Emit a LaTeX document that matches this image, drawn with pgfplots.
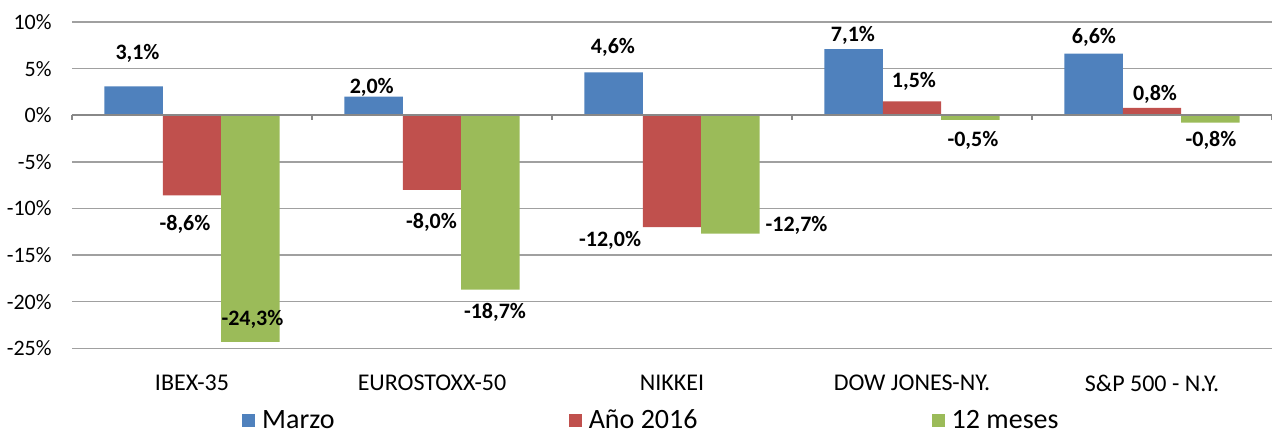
\documentclass[border=0pt]{standalone}
\usepackage{fontspec}
\setmainfont{Carlito}
\usepackage{pgfplots}
\pgfplotsset{compat=1.18}
\definecolor{cblue}{HTML}{4F81BD}
\definecolor{cred}{HTML}{C0504D}
\definecolor{cgreen}{HTML}{9BBB59}
\definecolor{cgrid}{HTML}{A0A0A0}
\definecolor{caxis}{HTML}{888888}
\pgfplotsset{sqleg/.style={legend image code/.code={\fill[##1] (0pt,-3.3pt) rectangle (6.6pt,3.3pt);}}}
\begin{document}
\begin{tikzpicture}
\begin{axis}[
  scale only axis, width=600pt, height=163.15pt,
  xmin=-0.5, xmax=4.5, ymin=-25, ymax=10,
  axis line style={draw=none},
  xtick={0,1,2,3,4},
  xticklabels={IBEX-35, EUROSTOXX-50, NIKKEI, DOW JONES-NY., S\&P 500 - N.Y.},
  ytick={-25,-20,-15,-10,-5,0,5,10},
  yticklabels={-25\%,-20\%,-15\%,-10\%,-5\%,0\%,5\%,10\%},
  tick style={draw=none},
  ymajorgrids, grid style={cgrid, line width=0.75pt},
  yticklabel style={font=\fontsize{11}{13}\selectfont, anchor=east, inner sep=0pt, xshift=-10pt},
  xticklabel style={font=\fontsize{12}{14}\selectfont, anchor=center, inner sep=0pt, yshift=-17.3pt},
  legend columns=3,
  legend cell align=left,
  legend style={draw=none, fill=none, inner sep=0pt, outer sep=0pt,
    at={(axis description cs:0.1417,-0.2215)}, anchor=west,
    font=\fontsize{14}{15}\selectfont, column sep=0pt,
    nodes={inner sep=0pt},
    /tikz/every odd column/.append style={column sep=3.5pt},
    /tikz/every even column/.append style={column sep=117pt}},
  clip=false,
]
\addplot[ybar, bar width=0.2436, bar shift=-0.2436, fill=cblue, draw=none, sqleg]
  coordinates {(0,3.1) (1,2.0) (2,4.6) (3,7.1) (4,6.6)};
\addlegendentry{Marzo}
\addplot[ybar, bar width=0.2436, bar shift=0, fill=cred, draw=none, sqleg]
  coordinates {(0,-8.6) (1,-8.0) (2,-12.0) (3,1.5) (4,0.8)};
\addlegendentry{Año 2016}
\addplot[ybar, bar width=0.2436, bar shift=0.2436, fill=cgreen, draw=none, sqleg]
  coordinates {(0,-24.3) (1,-18.7) (2,-12.7) (3,-0.5) (4,-0.8)};
\addlegendentry{12 meses}
\addplot[draw=none, mark=none, forget plot, nodes near coords={\pgfplotspointmeta\%},
  point meta=explicit symbolic,
  nodes near coords style={anchor=center, font=\bfseries\fontsize{11}{13}\selectfont, inner sep=0pt}]
  table[x=x, y=y, meta=lab] {
x y lab
-0.227 6.675 3,1
-0.029 -11.72 -8,6
0.252 -21.91 -24,3
0.749 3.03 2,0
0.998 -11.45 -8,0
1.2625 -21.16 -18,7
1.754 7.26 4,6
1.742 -13.38 -12,0
2.519 -11.77 -12,7
2.754 8.61 7,1
3.008 3.67 1,5
3.254 -2.66 -0,5
3.758 8.34 6,6
4.0125 2.28 0,8
4.246 -2.66 -0,8
};
\draw[caxis, line width=0.75pt] (axis cs:-0.5,0) -- (axis cs:4.5,0);
\pgfplotsinvokeforeach{-0.5,0.5,1.5,2.5,3.5,4.5}{
  \draw[caxis, line width=0.6pt] (axis cs:#1,0) -- ++(0pt,-2.5pt);
}
\end{axis}
\pgfresetboundingbox
\path[use as bounding box] (-36pt,-43.35pt) rectangle (600pt,174.15pt);
\end{tikzpicture}
\end{document}
